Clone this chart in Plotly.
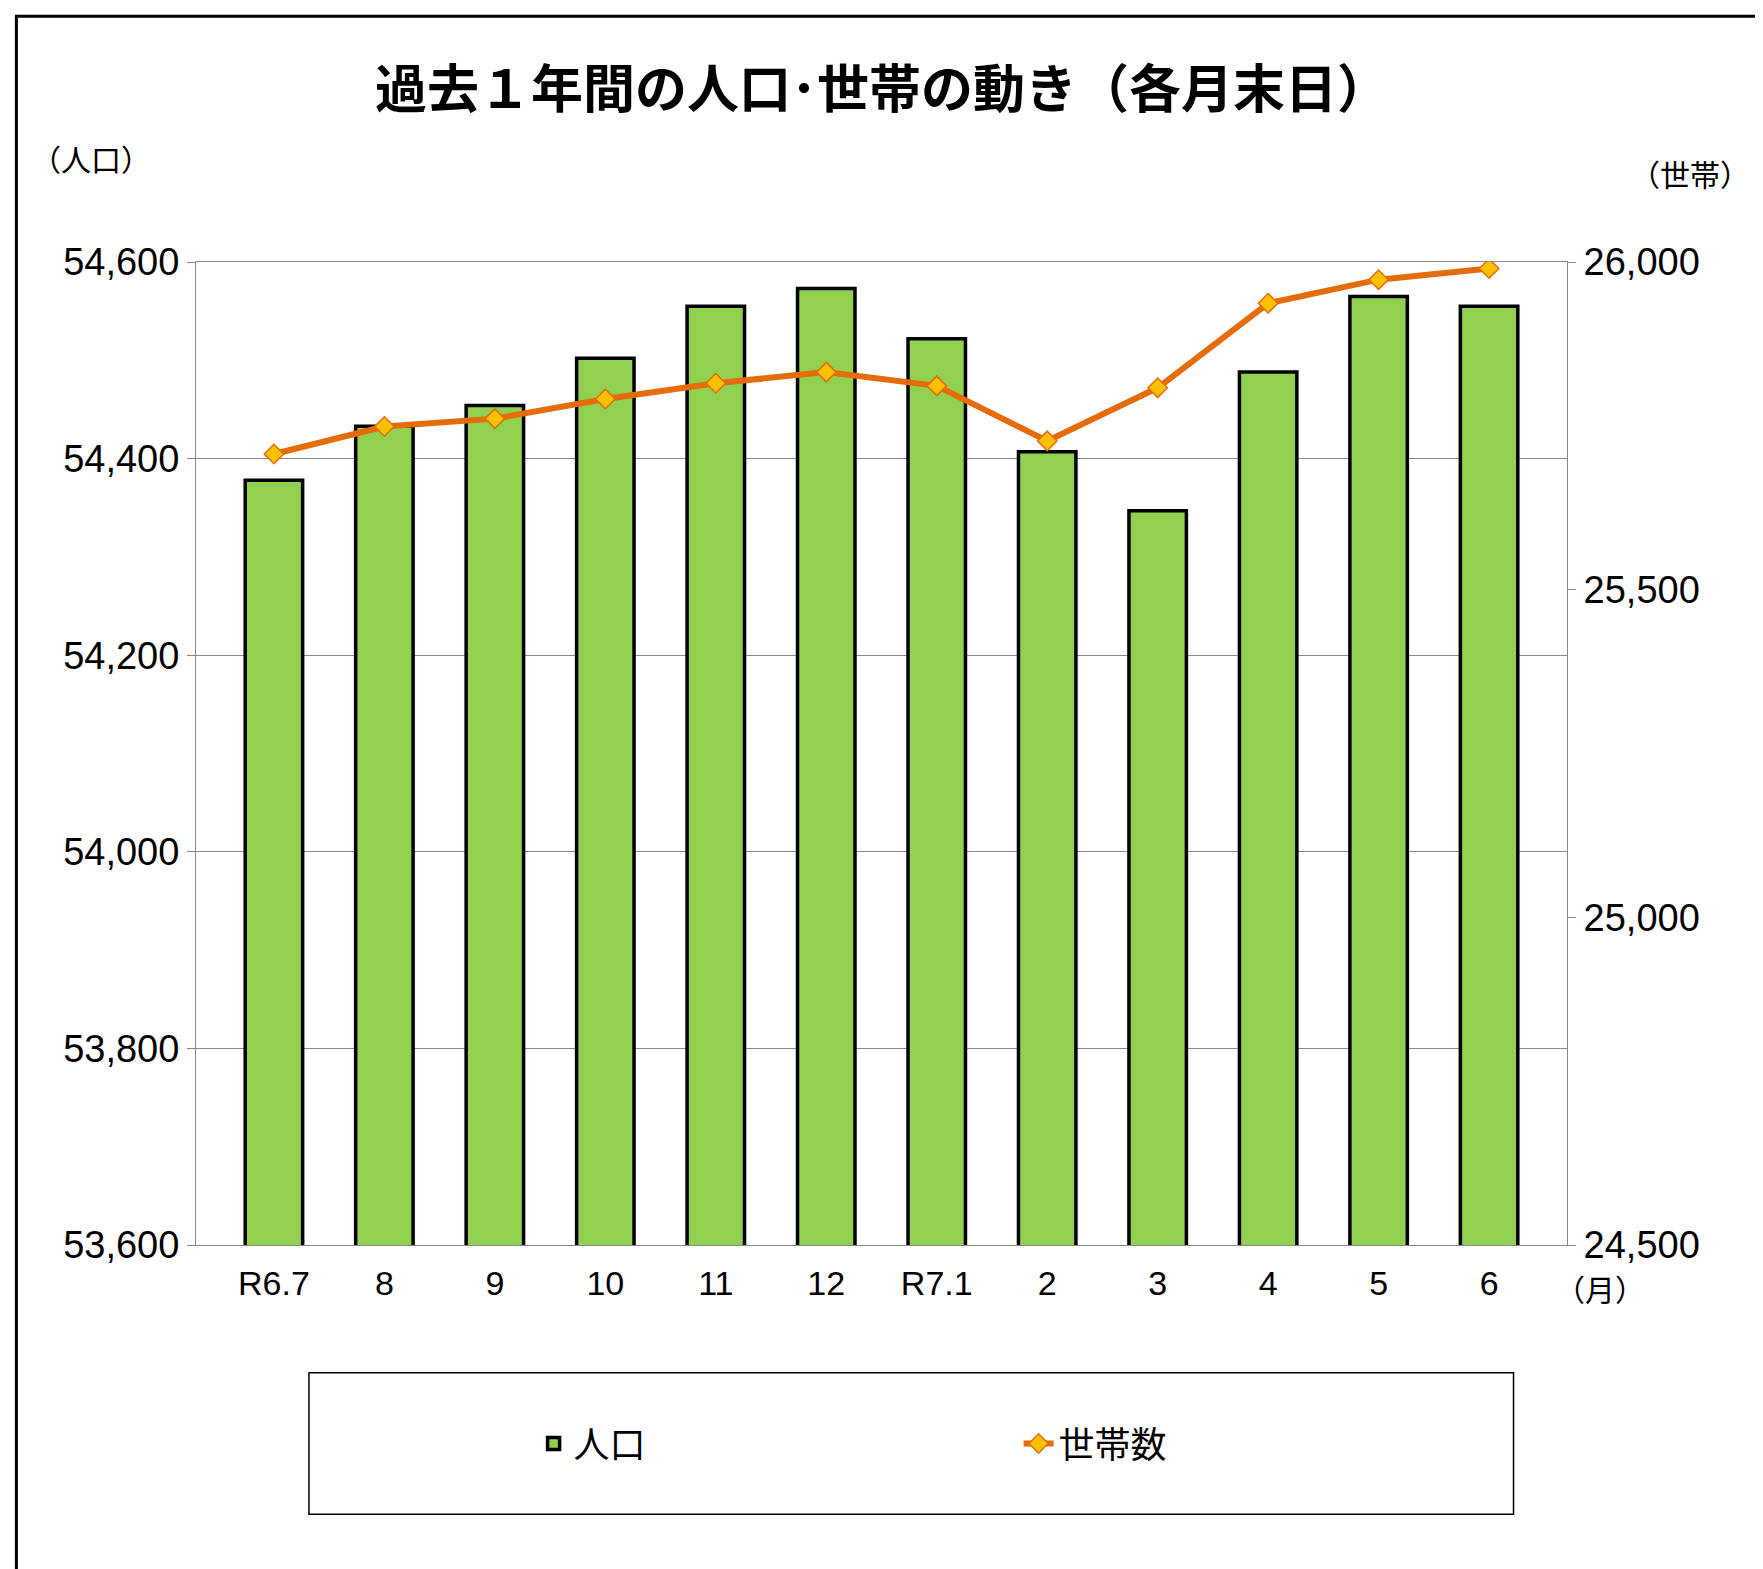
import plotly.graph_objects as go

months = ["R6.7", "8", "9", "10", "11", "12", "R7.1", "2", "3", "4", "5", "6"]
population = [54378, 54433, 54454, 54502, 54555, 54573, 54522, 54407, 54347, 54488, 54565, 54555]
households = [25707, 25749, 25761, 25791, 25815, 25832, 25811, 25727, 25808, 25937, 25973, 25990]

jp = "Noto Sans CJK JP"
num = "Liberation Sans"

fig = go.Figure()
fig.add_trace(go.Bar(
    x=months, y=population, name="人口", width=0.52,
    marker=dict(color="#92D050", line=dict(color="black", width=3.5)),
))
fig.add_trace(go.Scatter(
    x=months, y=households, name="世帯数", yaxis="y2", mode="lines+markers",
    line=dict(color="#E46C0A", width=6),
    marker=dict(symbol="diamond", size=15, color="#FFC000", line=dict(color="#E46C0A", width=1.5)),
))

fig.update_layout(
    width=1763, height=1569,
    margin=dict(l=188, r=204, t=254, b=332),
    plot_bgcolor="white", paper_bgcolor="white",
    showlegend=True,
    legend=dict(orientation="h", x=0.6, y=-0.202, xanchor="center", yanchor="middle",
                font=dict(family=jp, size=36, color="black"), entrywidth=440),
    xaxis=dict(type="category", showline=True, linecolor="#888", mirror=True,
               ticks="", tickfont=dict(family=num, size=34, color="black"), ticklabelstandoff=8),
    yaxis=dict(range=[53600, 54600], dtick=200, tickformat=",", showgrid=True, gridcolor="#888",
               gridwidth=1, showline=True, linecolor="#888", ticks="outside", ticklen=8,
               tickcolor="#888", tickfont=dict(family=num, size=38, color="black")),
    yaxis2=dict(range=[24500, 26000], dtick=500, tickformat=",", overlaying="y", side="right",
                showgrid=False, showline=True, linecolor="#888", ticks="outside", ticklen=8,
                tickcolor="#888", tickfont=dict(family=num, size=38, color="black")),
    bargap=0.48,
)

fig.add_annotation(text="<b>過去１年間の人口･世帯の動き（各月末日）</b>", xref="paper", yref="paper",
                   x=0.5, y=1.22, showarrow=False, font=dict(family=jp, size=52, color="black"))
fig.add_annotation(text="（人口）", xref="paper", yref="paper", x=-0.122, y=1.13, xanchor="left",
                   showarrow=False, font=dict(family=jp, size=30, color="black"))
fig.add_annotation(text="（世帯）", xref="paper", yref="paper", x=1.135, y=1.115, xanchor="right",
                   showarrow=False, font=dict(family=jp, size=30, color="black"))
fig.add_annotation(text="（月）", xref="paper", yref="paper", x=1.058, y=-0.068,
                   showarrow=False, font=dict(family=jp, size=30, color="black"))

fig.add_shape(type="rect", xref="paper", yref="paper", x0=0.0824, x1=0.961, y0=-0.274, y1=-0.130,
              line=dict(color="black", width=1.5))
fig.add_shape(type="rect", xref="paper", yref="paper", x0=-0.131, x1=1.142, y0=-0.332, y1=1.25,
              line=dict(color="black", width=3))

fig.write_html("out.html")
